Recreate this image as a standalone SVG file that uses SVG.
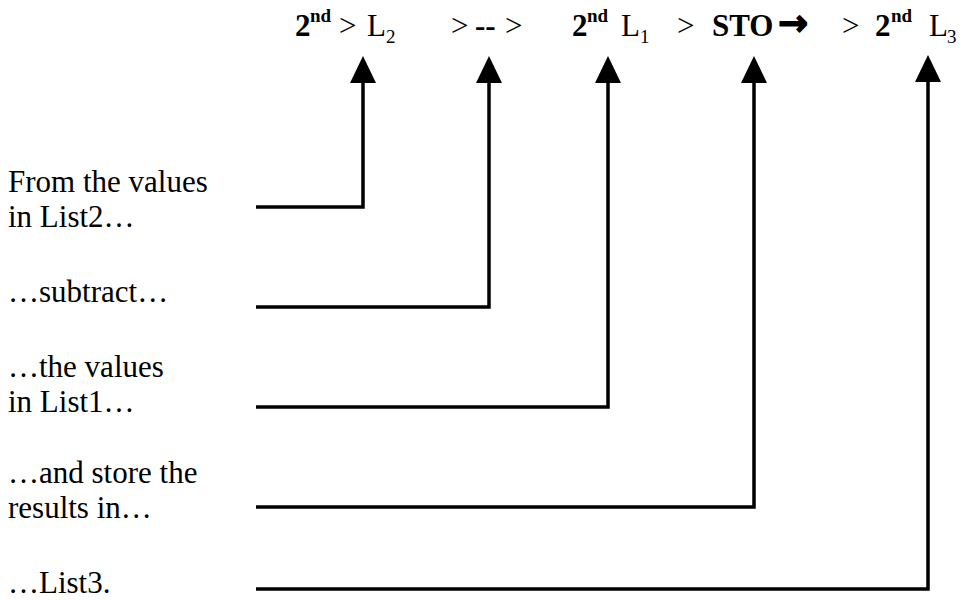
<svg xmlns="http://www.w3.org/2000/svg" width="966" height="600" viewBox="0 0 966 600">
<style>
  text { font-family: "Liberation Serif", "Times New Roman", serif; fill: #000; }
  .lbl { font-size: 31px; }
  .top { font-size: 31px; }
  .b { font-weight: bold; }
  .sup { font-size: 19px; font-weight: bold; }
  .sub { font-size: 19px; }
  .wire { fill: none; stroke: #000; stroke-width: 3.5; stroke-linejoin: miter; stroke-linecap: butt; }
  .head { fill: #000; stroke: none; }
</style>
<rect width="966" height="600" fill="#fff"/>

<g id="keys">
  <text class="top b" x="295" y="36">2</text><text class="sup" x="310" y="22">nd</text>
  <text class="top" x="339" y="36">&gt;</text>
  <text class="top" x="367" y="36">L</text><text class="sub" x="386" y="43">2</text>
  <text class="top" x="451" y="36">&gt;</text>
  <text class="top b" x="475" y="36">--</text>
  <text class="top" x="505" y="36">&gt;</text>
  <text class="top b" x="572" y="36">2</text><text class="sup" x="587" y="22">nd</text>
  <text class="top" x="621" y="36">L</text><text class="sub" x="640" y="43">1</text>
  <text class="top" x="677" y="36">&gt;</text>
  <text class="top b" x="712" y="36">STO</text>
  <text x="778" y="35" style="font-family:'DejaVu Sans',sans-serif;font-weight:bold;font-size:36px;stroke:#000;stroke-width:1.3">→</text>
  <text class="top" x="842" y="36">&gt;</text>
  <text class="top b" x="875" y="36">2</text><text class="sup" x="891" y="22">nd</text>
  <text class="top" x="929" y="36">L</text><text class="sub" x="947" y="43">3</text>
</g>

<g id="label-list2"><text class="lbl" x="8" y="192">From the values</text><text class="lbl" x="8" y="227">in List2…</text></g>
<g id="label-subtract"><text class="lbl" x="8" y="302">…subtract…</text></g>
<g id="label-list1"><text class="lbl" x="8" y="377">…the values</text><text class="lbl" x="8" y="412">in List1…</text></g>
<g id="label-store"><text class="lbl" x="8" y="483">…and store the</text><text class="lbl" x="8" y="518">results in…</text></g>
<g id="label-list3"><text class="lbl" x="8" y="593">…List3.</text></g>

<g id="connectors">
  <polyline class="wire" points="256,207 363,207 363,82"/>
  <polygon class="head" points="363,56 350,83 376,83"/>
  <polyline class="wire" points="256,307 489,307 489,82"/>
  <polygon class="head" points="489,56 476,83 502,83"/>
  <polyline class="wire" points="256,407 608,407 608,82"/>
  <polygon class="head" points="608,56 595,83 621,83"/>
  <polyline class="wire" points="256,507 754,507 754,82"/>
  <polygon class="head" points="754,56 741,83 767,83"/>
  <polyline class="wire" points="256,589 928,589 928,82"/>
  <polygon class="head" points="928,55 915,82 941,82"/>
</g>
</svg>
